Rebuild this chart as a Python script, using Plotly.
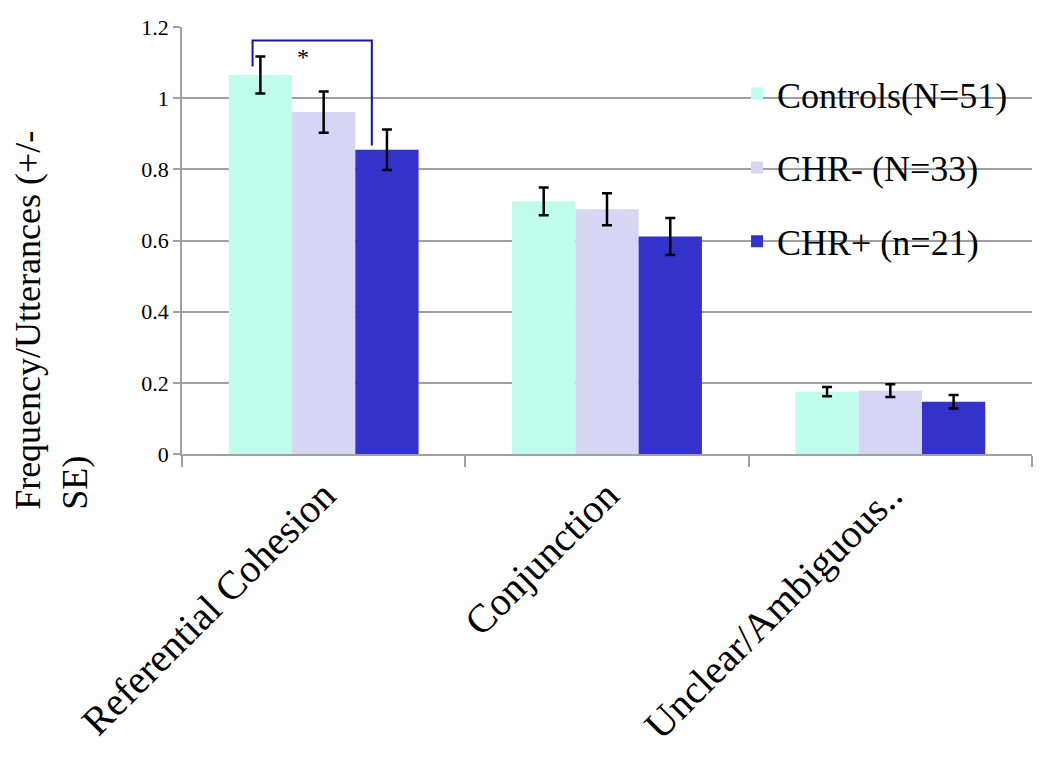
import plotly.graph_objects as go

categories = ["Referential Cohesion", "Conjunction", "Unclear/Ambiguous.."]
series_names = ["Controls(N=51)", "CHR- (N=33)", "CHR+ (n=21)"]
controls = [1.065, 0.710, 0.175]
controls_se = [0.052, 0.039, 0.013]
chr_minus = [0.961, 0.688, 0.178]
chr_minus_se = [0.058, 0.045, 0.018]
chr_plus = [0.855, 0.611, 0.147]
chr_plus_se = [0.057, 0.052, 0.019]
colors = ["#BFFCEB", "#D6D6F4", "#3333CC"]
y_ticks = [0, 0.2, 0.4, 0.6, 0.8, 1.0, 1.2]

FONT = "Liberation Serif"

fig = go.Figure()
for i, (name, vals, se) in enumerate(zip(series_names,
                                         [controls, chr_minus, chr_plus],
                                         [controls_se, chr_minus_se, chr_plus_se])):
    fig.add_trace(go.Bar(
        x=categories, y=vals, name=name, marker_color=colors[i],
        marker_line_width=0, legendgroup=f"g{i}",
        error_y=dict(type="data", array=se, color="black", thickness=2.5, width=5),
    ))

# significance bracket between Controls and CHR+ on Referential Cohesion
fig.add_shape(type="path", xref="x", yref="y",
              path="M -0.251,1.089 L -0.251,1.162 L 0.170,1.162 L 0.170,0.867",
              line=dict(color="#1414A0", width=2))
fig.add_annotation(x=0.0, y=1.115, xref="x", yref="y", text="*", showarrow=False,
                   xshift=-21, font=dict(family=FONT, size=24, color="black"))

# white background behind legend (hides gridlines)
fig.add_shape(type="rect", xref="paper", yref="paper", x0=0.609, x1=1.0,
              y0=(454 - 278) / 427, y1=(454 - 60) / 427, layer="between",
              fillcolor="white", line_width=0)

fig.add_annotation(xref="paper", yref="paper", x=-0.153, y=0.314,
                   xanchor="center", yanchor="middle", textangle=-90, align="left",
                   text="Frequency/Utterances (+/-<br>SE)", showarrow=False,
                   font=dict(family=FONT, size=36, color="black"))

fig.update_layout(
    width=1050, height=758,
    margin=dict(l=174, r=26, t=19, b=312, autoexpand=False),
    paper_bgcolor="white", plot_bgcolor="white",
    barmode="group", bargap=0.33, bargroupgap=0,
    font=dict(family=FONT, color="black"),
    legend=dict(x=0.653, y=0.914, xanchor="left", yanchor="top",
                bgcolor="rgba(0,0,0,0)", font=dict(family=FONT, size=36),
                tracegroupgap=24),
    showlegend=True,
)
fig.update_xaxes(showline=True, linecolor="#A0A0A0", linewidth=1.5, automargin=False,
                 ticks="outside", tickson="boundaries", ticklen=11, tickcolor="#A0A0A0",
                 tickwidth=1.5, tickangle=-45,
                 tickfont=dict(family=FONT, size=40, color="black"))
fig.update_yaxes(range=[0, 1.2], tickvals=y_ticks, ticktext=["0", "0.2", "0.4", "0.6", "0.8", "1", "1.2"],
                 showgrid=True, gridcolor="#A0A0A0", gridwidth=1.5, automargin=False,
                 showline=True, linecolor="#A0A0A0", linewidth=1.5,
                 ticks="outside", ticklen=7, tickcolor="#A0A0A0", tickwidth=1.5,
                 zeroline=False,
                 tickfont=dict(family=FONT, size=22, color="black"))

fig.write_html("out.html")
